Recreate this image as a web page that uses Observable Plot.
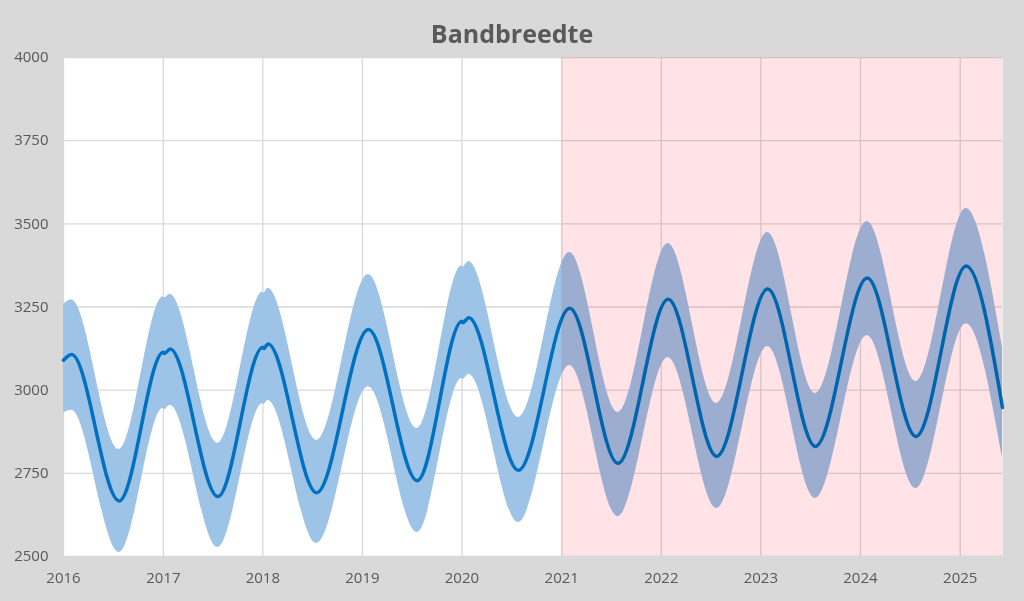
<!DOCTYPE html>
<html>
<head>
<meta charset="utf-8">
<script src="https://cdn.jsdelivr.net/npm/d3@7"></script>
<script src="https://cdn.jsdelivr.net/npm/@observablehq/plot@0.6"></script>
<style>
  html, body { margin: 0; padding: 0; background: #ffffff; }
  #chart { position: relative; width: 1024px; height: 601px; background: #d9d9d9; overflow: hidden; }
  #title { position: relative; top: 13px; height: 40px; line-height: 40px; margin-bottom: -40px; text-align: center;
           font-family: 'Open Sans', sans-serif; font-weight: 700; font-size: 25px; color: #595959; z-index: 2; }
  #plot { position: absolute; top: 40px; left: 0; }
</style>
</head>
<body>
<div id="chart">
  <div id="title">Bandbreedte</div>
  <div id="plot"></div>
</div>
<script>
// ---- data ----
const dates = [
  "2016-01-01","2016-01-31","2016-07-23",
  "2017-01-01","2017-01-05","2017-01-26","2017-07-20",
  "2018-01-01","2018-01-04","2018-01-20","2018-07-17",
  "2019-01-23","2019-07-21",
  "2020-01-01","2020-01-04","2020-01-26","2020-07-26",
  "2021-01-30","2021-07-26",
  "2022-01-26","2022-07-23",
  "2023-01-26","2023-07-20",
  "2024-01-26","2024-07-23",
  "2025-01-23","2025-06-05"
];
const center = [
  3090,3107,2667,
  3114,3110,3124,2680,
  3129,3125,3139,2692,
  3182,2728,
  3207,3203,3218,2759,
  3246,2780,
  3273,2801,
  3304,2831,
  3337,2861,
  3373,2948
];
const upper = [
  3258,3272,2822,
  3281,3277,3288,2840,
  3295,3291,3306,2849,
  3348,2885,
  3374,3370,3387,2918,
  3414,2933,
  3441,2960,
  3474,2990,
  3507,3026,
  3546,3128
];
const lower = [
  2932,2940,2512,
  2946,2942,2955,2527,
  2960,2957,2969,2539,
  3010,2572,
  3035,3032,3048,2602,
  3074,2620,
  3098,2644,
  3131,2674,
  3164,2704,
  3200,2798
];
const yearLabels = [2016,2017,2018,2019,2020,2021,2022,2023,2024,2025];
const yTicks = [2500,2750,3000,3250,3500,3750,4000];
const shadeStart = "2021-01-01";
const shadeEnd = "2025-06-05";

// ---- build table ----
const parse = d3.utcParse("%Y-%m-%d");
const rows = dates.map((d, i) => ({date: parse(d), value: center[i], hi: upper[i], lo: lower[i]}));
const yearTicks = yearLabels.map(y => new Date(Date.UTC(y, 0, 1)));
const shade = [{start: parse(shadeStart), end: parse(shadeEnd)}];

const chart = Plot.plot({
  width: 1024,
  height: 561,
  marginTop: 17,
  marginBottom: 45,
  marginLeft: 63,
  marginRight: 22,
  x: {type: "utc", domain: [parse(dates[0]), parse(dates[dates.length - 1])]},
  y: {domain: [2500, 4000]},
  style: {fontFamily: "'Open Sans', sans-serif", fontSize: "15px", color: "#595959", background: "transparent", overflow: "visible"},
  marks: [
    Plot.frame({fill: "white", stroke: "none"}),
    Plot.gridX(yearTicks, {stroke: "#d9d9d9", strokeOpacity: 1, strokeWidth: 1.3}),
    Plot.gridY(yTicks, {stroke: "#d9d9d9", strokeOpacity: 1, strokeWidth: 1.3}),
    Plot.areaY(rows, {x: "date", y1: "lo", y2: "hi", fill: "#9dc3e6", curve: "monotone-x"}),
    Plot.lineY(rows, {x: "date", y: "value", stroke: "#0070c0", strokeWidth: 3.5, curve: "monotone-x"}),
    Plot.rect(shade, {x1: "start", x2: "end", fill: "#ffe3e6", mixBlendMode: "multiply"}),
    Plot.axisX(yearTicks, {tickSize: 0, tickPadding: 16, tickFormat: d3.utcFormat("%Y"), fill: "#595959"}),
    Plot.axisY(yTicks, {tickSize: 0, tickPadding: 15, tickFormat: d => String(d), fill: "#595959"})
  ]
});
document.getElementById("plot").appendChild(chart);
</script>
</body>
</html>
